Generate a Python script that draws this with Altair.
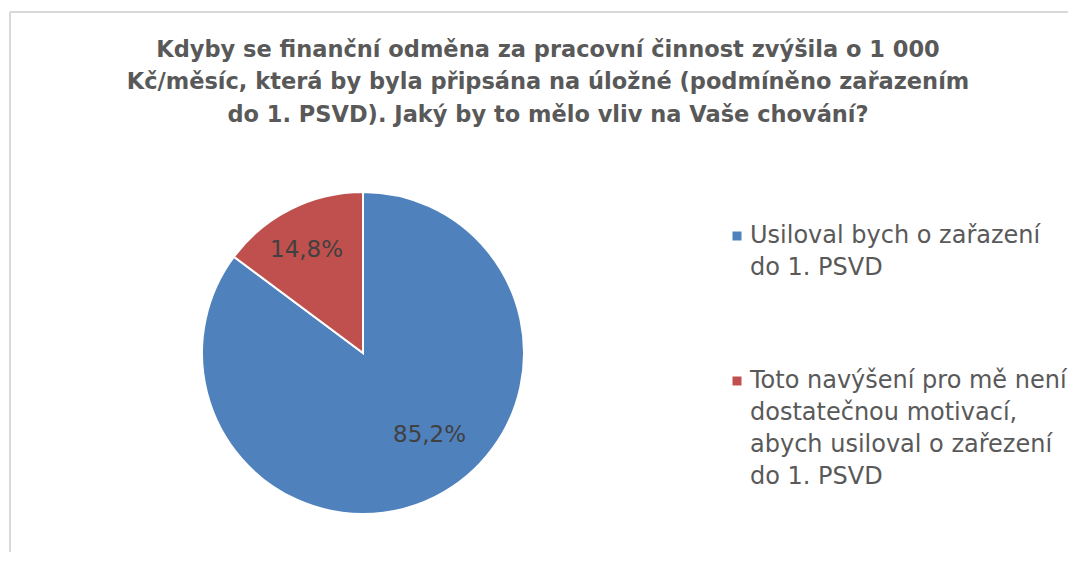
import altair as alt
import pandas as pd

# ---- data ----
categories = [
    "Usiloval bych o zařazení\ndo 1. PSVD",
    "Toto navýšení pro mě není\ndostatečnou motivací,\nabych usiloval o zařezení\ndo 1. PSVD",
]
values = [85.2, 14.8]
order = [0, 1]
colors = ["#4F81BD", "#C0504D"]
title_lines = [
    "Kdyby se finanční odměna za pracovní činnost zvýšila o 1 000",
    "Kč/měsíc, která by byla připsána na úložné (podmíněno zařazením",
    "do 1. PSVD). Jaký by to mělo vliv na Vaše chování?",
]

df = pd.DataFrame({"kategorie": categories, "podil": values, "poradi": order})

W, H = 1058, 540
CX, CY = 353, 341
R = 161
FONT = "DejaVu Sans"

base = alt.Chart(df).transform_calculate(
    lbl="replace(format(datum.podil, '.1f'), '.', ',') + '%'"
).encode(
    theta=alt.Theta("podil:Q", stack=True),
    order=alt.Order("poradi:Q"),
)

pie = base.mark_arc(outerRadius=R, stroke="white", strokeWidth=2).encode(
    x=alt.value(CX),
    y=alt.value(CY),
    color=alt.Color(
        "kategorie:N",
        scale=alt.Scale(domain=categories, range=colors),
        legend=alt.Legend(
            title=None,
            orient="none",
            legendX=715,
            legendY=212,
            padding=0,
            labelExpr="split(datum.label, '\\n')",
            labelFont=FONT,
            labelFontSize=24,
            labelColor="#595959",
            labelLimit=0,
            labelOffset=1,
            symbolType="square",
            symbolSize=81,
            symbolStrokeWidth=0,
            rowPadding=89,
        ),
    ),
)

lbl_blue = base.mark_text(
    radius=106, dx=19, dy=-13, font=FONT, fontSize=23, color="#404040",
    align="center", baseline="middle",
).encode(
    x=alt.value(CX), y=alt.value(CY),
    text=alt.condition("datum.poradi == 0", "lbl:N", alt.value("")),
)

lbl_red = base.mark_text(
    radius=117, dx=-4, dy=2, font=FONT, fontSize=23, color="#404040",
    align="center", baseline="middle",
).encode(
    x=alt.value(CX), y=alt.value(CY),
    text=alt.condition("datum.poradi == 1", "lbl:N", alt.value("")),
)

frame_df = pd.DataFrame({"r": [0]})
top_rule = alt.Chart(frame_df).mark_rule(color="#d9d9d9", strokeWidth=2).encode(
    x=alt.value(0), x2=alt.value(W), y=alt.value(0)
)
left_rule = alt.Chart(frame_df).mark_rule(color="#d9d9d9", strokeWidth=2).encode(
    x=alt.value(0), y=alt.value(0), y2=alt.value(H)
)

chart = alt.layer(top_rule, left_rule, pie, lbl_blue, lbl_red).properties(
    width=W,
    height=H,
    title=alt.TitleParams(
        text=title_lines,
        font=FONT,
        fontSize=22.5,
        fontWeight="bold",
        color="#595959",
        lineHeight=32.5,
        anchor="middle",
        offset=-115,
        dx=9,
    ),
    autosize=alt.AutoSizeParams(type="none"),
    padding={"left": 2, "top": 4, "right": 0, "bottom": 0},
).configure(
    background="white",
    style={"guide-label": {"lineHeight": 32}},
).configure_view(strokeWidth=0)

chart.save("out.html", embed_options={"renderer": "svg", "actions": False})
